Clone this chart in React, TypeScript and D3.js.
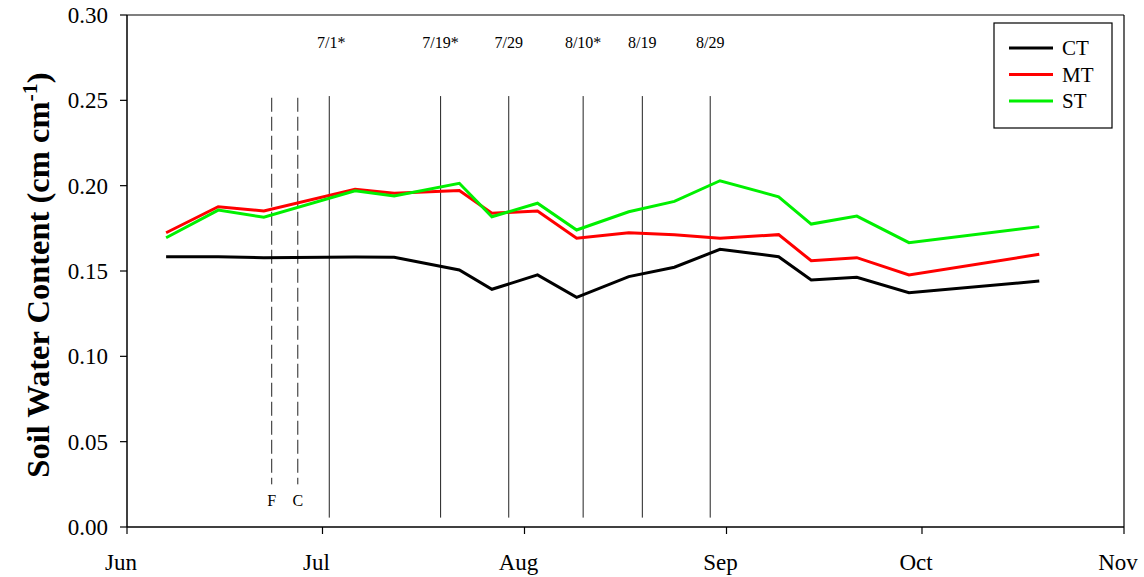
import React from "react";
import * as d3 from "d3";

const sampleDates = [
  "2014-06-07", "2014-06-15", "2014-06-22", "2014-07-06", "2014-07-12", "2014-07-22",
  "2014-07-27", "2014-08-03", "2014-08-09", "2014-08-17", "2014-08-24", "2014-08-31",
  "2014-09-09", "2014-09-14", "2014-09-21", "2014-09-29", "2014-10-19",
];
const ctValues = [0.1584, 0.1584, 0.1578, 0.1582, 0.158, 0.1506, 0.1393, 0.1477, 0.1346, 0.1467, 0.1522, 0.1627, 0.1584, 0.1447, 0.1463, 0.1373, 0.1441];
const mtValues = [0.1724, 0.1877, 0.1852, 0.1979, 0.1955, 0.1971, 0.1838, 0.1852, 0.1692, 0.1724, 0.1713, 0.1692, 0.1713, 0.156, 0.1578, 0.1477, 0.1598];
const stValues = [0.1695, 0.1857, 0.1815, 0.197, 0.1939, 0.2014, 0.1818, 0.1897, 0.174, 0.1847, 0.1908, 0.2029, 0.1935, 0.1775, 0.1822, 0.1666, 0.176];

const seriesNames = ["CT", "MT", "ST"];
const seriesColors = ["#000000", "#ff0000", "#00f000"];

const eventDates = ["2014-07-02T01:00", "2014-07-19T03:00", "2014-07-29T14:00", "2014-08-10T00:00", "2014-08-19T02:00", "2014-08-29T12:00"];
const eventLabels = ["7/1*", "7/19*", "7/29", "8/10*", "8/19", "8/29"];
const dashedDates = ["2014-06-23T05:00", "2014-06-27T05:00"];
const dashedLabels = ["F", "C"];

const yTicks = [0, 0.05, 0.1, 0.15, 0.2, 0.25, 0.3];
const xTickDates = ["2014-06-01", "2014-07-01", "2014-08-01", "2014-09-01", "2014-10-01", "2014-11-01"];
const xTickLabels = ["Jun", "Jul", "Aug", "Sep", "Oct", "Nov"];

const parseDay = d3.timeParse("%Y-%m-%d");
const parseTime = d3.timeParse("%Y-%m-%dT%H:%M");

export default function App() {
  const left = 127, right = 1124, top = 15, bottom = 527;
  const x = d3.scaleTime().domain([parseDay("2014-06-01")!, parseDay("2014-11-01")!]).range([left, right]);
  const y = d3.scaleLinear().domain([0, 0.3]).range([bottom, top]);
  const dates = sampleDates.map((s) => parseDay(s)!);
  const allSeries = [ctValues, mtValues, stValues];
  const line = d3.line<[Date, number]>().x((d) => x(d[0])).y((d) => y(d[1]));
  const font = "'Liberation Serif', 'Times New Roman', serif";

  return (
    <svg width={1144} height={577} style={{ position: "absolute", left: 0, top: 0, background: "#fff" }} fontFamily={font}>
      <rect x={0} y={0} width={1144} height={577} fill="#fff" />
      {/* frame */}
      <line x1={left} x2={right} y1={top} y2={top} stroke="#000" strokeWidth={1.2} />
      <line x1={right} x2={right} y1={top} y2={bottom} stroke="#000" strokeWidth={1.2} />
      <line x1={left} x2={left} y1={top} y2={bottom} stroke="#000" strokeWidth={1.5} />
      <line x1={left} x2={right} y1={bottom} y2={bottom} stroke="#000" strokeWidth={1.5} />

      {/* y ticks */}
      {yTicks.map((t) => (
        <g key={t}>
          <line x1={left - 7} x2={left} y1={y(t)} y2={y(t)} stroke="#000" strokeWidth={1.2} />
          <text x={108} y={y(t)} dy="0.35em" textAnchor="end" fontSize={23}>{t.toFixed(2)}</text>
        </g>
      ))}
      {/* x ticks */}
      {xTickDates.map((s, i) => {
        const xv = x(parseDay(s)!);
        return (
          <g key={s}>
            <line x1={xv} x2={xv} y1={bottom} y2={bottom + 7} stroke="#000" strokeWidth={1.2} />
            <text x={xv - 6} y={570} textAnchor="middle" fontSize={23}>{xTickLabels[i]}</text>
          </g>
        );
      })}

      {/* y label */}
      <text transform={`translate(49,${(top + bottom) / 2 + 4}) rotate(-90)`} textAnchor="middle" fontSize={32.5} fontWeight="bold">
        Soil Water Content (cm cm<tspan dy={-12} fontSize={22}>-1</tspan><tspan dy={12}>)</tspan>
      </text>

      {/* dashed event lines */}
      {dashedDates.map((s, i) => {
        const xv = x(parseTime(s)!);
        return (
          <g key={s}>
            <line x1={xv} x2={xv} y1={y(0.2515)} y2={y(0.025)} stroke="#222" strokeWidth={1} strokeDasharray="14,5" />
            <text x={xv} y={506} textAnchor="middle" fontSize={16}>{dashedLabels[i]}</text>
          </g>
        );
      })}
      {/* solid event lines */}
      {eventDates.map((s, i) => {
        const xv = x(parseTime(s)!);
        return (
          <g key={s}>
            <line x1={xv} x2={xv} y1={y(0.2525)} y2={y(0.0055)} stroke="#222" strokeWidth={1} />
            <text x={xv + (i === 0 ? 2 : 0)} y={48} textAnchor="middle" fontSize={16}>{eventLabels[i]}</text>
          </g>
        );
      })}

      {/* series */}
      {allSeries.map((vals, si) => (
        <path
          key={seriesNames[si]}
          d={line(dates.map((d, i) => [d, vals[i]] as [Date, number])) || ""}
          fill="none"
          stroke={seriesColors[si]}
          strokeWidth={3}
          strokeLinejoin="miter"
        />
      ))}

      {/* legend */}
      <rect x={994} y={23} width={118} height={105} fill="#fff" stroke="#000" strokeWidth={1.2} />
      {seriesNames.map((n, i) => (
        <g key={n}>
          <line x1={1009} x2={1053} y1={48 + i * 26.5} y2={48 + i * 26.5} stroke={seriesColors[i]} strokeWidth={3} />
          <text x={1062} y={48 + i * 26.5} dy="0.35em" fontSize={21}>{n}</text>
        </g>
      ))}
    </svg>
  );
}
